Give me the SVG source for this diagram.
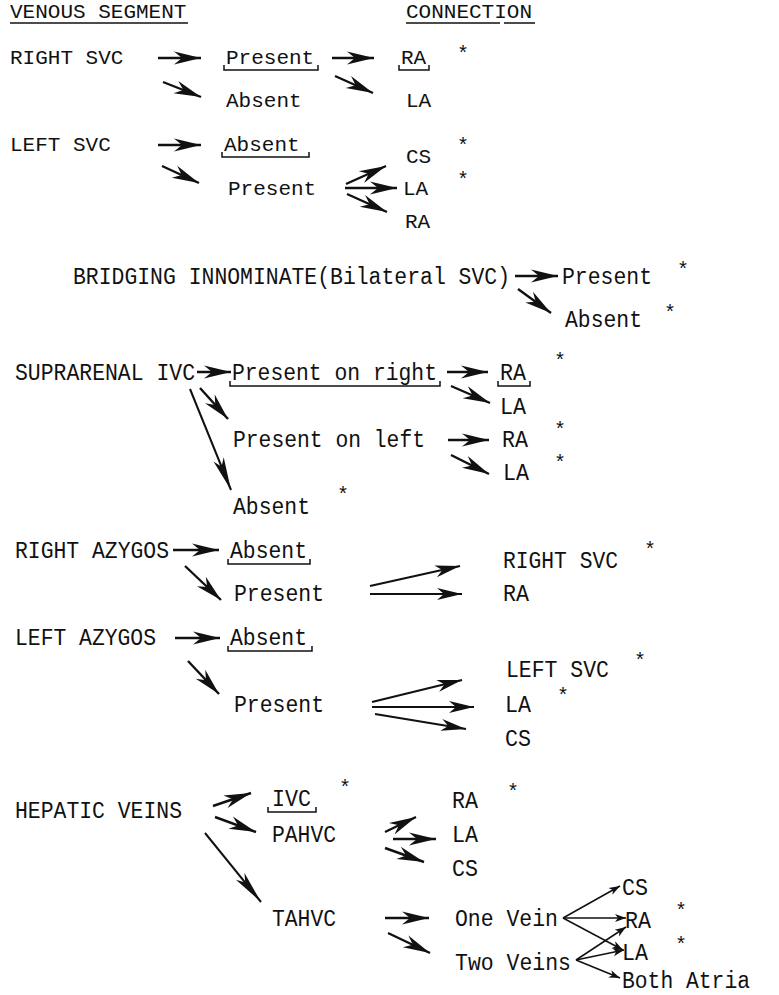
<svg xmlns="http://www.w3.org/2000/svg" width="779" height="995" viewBox="0 0 779 995">
<style>
text{font-family:"Liberation Mono","DejaVu Sans Mono",monospace;fill:#111}
.t{font-size:21px}
.c{font-size:23.5px}
.s{font-size:20px;text-anchor:middle}
.u{fill:none;stroke:#111;stroke-width:1.5}
.h{stroke:#111;stroke-width:2.4;fill:none;marker-end:url(#hb)}
.m{stroke:#111;stroke-width:2.2;fill:none;marker-end:url(#mb)}
.l{stroke:#111;stroke-width:2;fill:none;marker-end:url(#lb)}
.f{stroke:#111;stroke-width:1.5;fill:none;marker-end:url(#sb)}
</style>
<defs>
<marker id="hb" markerUnits="userSpaceOnUse" viewBox="-30 -8 31 16" refX="0" refY="0" markerWidth="31" markerHeight="16" orient="auto"><path d="M0,0 L-27,-6.5 L-19,0 L-27,6.5 Z" fill="#111"/></marker>
<marker id="mb" markerUnits="userSpaceOnUse" viewBox="-28 -7 29 14" refX="0" refY="0" markerWidth="29" markerHeight="14" orient="auto"><path d="M0,0 L-25,-6 L-18,0 L-25,6 Z" fill="#111"/></marker>
<marker id="lb" markerUnits="userSpaceOnUse" viewBox="-36 -7 37 14" refX="0" refY="0" markerWidth="37" markerHeight="14" orient="auto"><path d="M0,0 L-33,-5.5 L-25,0 L-33,5.5 Z" fill="#111"/></marker>
<marker id="sb" markerUnits="userSpaceOnUse" viewBox="-12 -5 13 10" refX="0" refY="0" markerWidth="13" markerHeight="10" orient="auto"><path d="M0,0 L-11,-4 L-8,0 L-11,4 Z" fill="#111"/></marker>
</defs>

<g id="headers">
<text class="t" x="10" y="18">VENOUS SEGMENT</text>
<path class="u" d="M10,23 H188"/>
<text class="t" x="406" y="18">CONNECTION</text>
<path class="u" d="M406,23 H500 M504,23 H535"/>
</g>

<g id="right-svc">
<text class="t" x="10" y="64">RIGHT SVC</text>
<text class="t" x="226" y="64">Present</text>
<path class="u" d="M224,65 V70 H318 V65"/>
<text class="t" x="226" y="107">Absent</text>
<text class="t" x="401" y="64">RA</text>
<path class="u" d="M399,65 V70 H429 V65"/>
<text class="t" x="406" y="107">LA</text>
<text class="s" x="463" y="60">*</text>
</g>

<g id="left-svc">
<text class="t" x="10" y="151">LEFT SVC</text>
<text class="t" x="224" y="151">Absent</text>
<path class="u" d="M222,152 V157 H309 V152"/>
<text class="t" x="228" y="195">Present</text>
<text class="t" x="406" y="163">CS</text>
<text class="t" x="403" y="195">LA</text>
<text class="t" x="405" y="228">RA</text>
<text class="s" x="463" y="152">*</text>
<text class="s" x="463" y="186">*</text>
</g>

<g id="bridging">
<text class="c" x="73" y="284" textLength="437" lengthAdjust="spacingAndGlyphs">BRIDGING INNOMINATE(Bilateral SVC)</text>
<text class="c" x="562" y="284" textLength="90" lengthAdjust="spacingAndGlyphs">Present</text>
<text class="c" x="565" y="327" textLength="77" lengthAdjust="spacingAndGlyphs">Absent</text>
<text class="s" x="683" y="276">*</text>
<text class="s" x="670" y="319">*</text>
</g>

<g id="suprarenal-ivc">
<text class="c" x="15" y="380" textLength="180" lengthAdjust="spacingAndGlyphs">SUPRARENAL IVC</text>
<text class="c" x="232" y="380" textLength="205" lengthAdjust="spacingAndGlyphs">Present on right</text>
<path class="u" d="M230,381 V386 H440 V381"/>
<text class="c" x="500" y="380" textLength="26" lengthAdjust="spacingAndGlyphs">RA</text>
<path class="u" d="M498,381 V386 H530 V381"/>
<text class="c" x="500" y="414" textLength="26" lengthAdjust="spacingAndGlyphs">LA</text>
<text class="c" x="233" y="447" textLength="192" lengthAdjust="spacingAndGlyphs">Present on left</text>
<text class="c" x="502" y="447" textLength="26" lengthAdjust="spacingAndGlyphs">RA</text>
<text class="c" x="503" y="480" textLength="26" lengthAdjust="spacingAndGlyphs">LA</text>
<text class="c" x="233" y="514" textLength="77" lengthAdjust="spacingAndGlyphs">Absent</text>
<text class="s" x="560" y="367">*</text>
<text class="s" x="560" y="436">*</text>
<text class="s" x="560" y="469">*</text>
<text class="s" x="343" y="501">*</text>
</g>

<g id="right-azygos">
<text class="c" x="15" y="558" textLength="154" lengthAdjust="spacingAndGlyphs">RIGHT AZYGOS</text>
<text class="c" x="230" y="558" textLength="77" lengthAdjust="spacingAndGlyphs">Absent</text>
<path class="u" d="M228,559 V564 H310 V559"/>
<text class="c" x="234" y="601" textLength="90" lengthAdjust="spacingAndGlyphs">Present</text>
<text class="c" x="503" y="568" textLength="115" lengthAdjust="spacingAndGlyphs">RIGHT SVC</text>
<text class="c" x="503" y="601" textLength="26" lengthAdjust="spacingAndGlyphs">RA</text>
<text class="s" x="650" y="556">*</text>
</g>

<g id="left-azygos">
<text class="c" x="15" y="645" textLength="141" lengthAdjust="spacingAndGlyphs">LEFT AZYGOS</text>
<text class="c" x="230" y="645" textLength="77" lengthAdjust="spacingAndGlyphs">Absent</text>
<path class="u" d="M228,646 V651 H312 V646"/>
<text class="c" x="234" y="712" textLength="90" lengthAdjust="spacingAndGlyphs">Present</text>
<text class="c" x="506" y="677" textLength="103" lengthAdjust="spacingAndGlyphs">LEFT SVC</text>
<text class="c" x="505" y="712" textLength="26" lengthAdjust="spacingAndGlyphs">LA</text>
<text class="c" x="505" y="746" textLength="26" lengthAdjust="spacingAndGlyphs">CS</text>
<text class="s" x="640" y="667">*</text>
<text class="s" x="563" y="702">*</text>
</g>

<g id="hepatic-veins">
<text class="c" x="15" y="818" textLength="167" lengthAdjust="spacingAndGlyphs">HEPATIC VEINS</text>
<text class="c" x="272" y="806" textLength="39" lengthAdjust="spacingAndGlyphs">IVC</text>
<path class="u" d="M268,807 V812 H316 V807"/>
<text class="c" x="272" y="842" textLength="64" lengthAdjust="spacingAndGlyphs">PAHVC</text>
<text class="c" x="452" y="808" textLength="26" lengthAdjust="spacingAndGlyphs">RA</text>
<text class="c" x="452" y="842" textLength="26" lengthAdjust="spacingAndGlyphs">LA</text>
<text class="c" x="452" y="876" textLength="26" lengthAdjust="spacingAndGlyphs">CS</text>
<text class="c" x="272" y="926" textLength="64" lengthAdjust="spacingAndGlyphs">TAHVC</text>
<text class="c" x="455" y="926" textLength="103" lengthAdjust="spacingAndGlyphs">One Vein</text>
<text class="c" x="455" y="970" textLength="116" lengthAdjust="spacingAndGlyphs">Two Veins</text>
<text class="c" x="622" y="895" textLength="26" lengthAdjust="spacingAndGlyphs">CS</text>
<text class="c" x="625" y="928" textLength="26" lengthAdjust="spacingAndGlyphs">RA</text>
<text class="c" x="622" y="960" textLength="26" lengthAdjust="spacingAndGlyphs">LA</text>
<text class="c" x="622" y="988" textLength="128" lengthAdjust="spacingAndGlyphs">Both Atria</text>
<text class="s" x="345" y="794">*</text>
<text class="s" x="513" y="798">*</text>
<text class="s" x="681" y="917">*</text>
<text class="s" x="681" y="951">*</text>
</g>

<g id="connectors">
<line class="h" x1="158" y1="58" x2="201" y2="58"/>
<line class="h" x1="163" y1="82" x2="201" y2="97"/>
<line class="h" x1="332" y1="58" x2="374" y2="58"/>
<line class="h" x1="335" y1="76" x2="373" y2="93"/>
<line class="h" x1="158" y1="145" x2="201" y2="145"/>
<line class="h" x1="162" y1="166" x2="199" y2="183"/>
<line class="h" x1="346" y1="184" x2="386" y2="166"/>
<line class="h" x1="345" y1="188" x2="397" y2="188"/>
<line class="h" x1="347" y1="194" x2="387" y2="212"/>

<line class="h" x1="515" y1="276" x2="558" y2="276"/>
<line class="h" x1="518" y1="289" x2="551" y2="313"/>

<line class="h" x1="197" y1="372" x2="231" y2="372"/>
<line class="h" x1="447" y1="372" x2="488" y2="372"/>
<line class="h" x1="451" y1="386" x2="490" y2="403"/>
<line class="h" x1="200" y1="388" x2="228" y2="419"/>
<line class="l" x1="190" y1="389" x2="231" y2="490"/>
<line class="h" x1="448" y1="440" x2="489" y2="440"/>
<line class="h" x1="451" y1="455" x2="489" y2="474"/>

<line class="h" x1="173" y1="550" x2="219" y2="550"/>
<line class="h" x1="185" y1="566" x2="221" y2="600"/>
<line class="m" x1="370" y1="586" x2="460" y2="566"/>
<line class="m" x1="370" y1="594" x2="462" y2="594"/>
<line class="h" x1="175" y1="638" x2="220" y2="638"/>
<line class="h" x1="188" y1="661" x2="219" y2="694"/>
<line class="m" x1="372" y1="702" x2="462" y2="680"/>
<line class="m" x1="372" y1="707" x2="474" y2="707"/>
<line class="m" x1="375" y1="714" x2="466" y2="729"/>

<line class="h" x1="213" y1="806" x2="251" y2="793"/>
<line class="h" x1="215" y1="817" x2="256" y2="832"/>
<line class="l" x1="205" y1="833" x2="261" y2="902"/>
<line class="h" x1="385" y1="832" x2="416" y2="817"/>
<line class="h" x1="393" y1="839" x2="436" y2="839"/>
<line class="h" x1="385" y1="848" x2="424" y2="862"/>
<line class="h" x1="385" y1="918" x2="429" y2="918"/>
<line class="h" x1="388" y1="933" x2="430" y2="953"/>

<line class="f" x1="563" y1="918" x2="620" y2="886"/>
<line class="f" x1="563" y1="918" x2="626" y2="918"/>
<line class="f" x1="563" y1="918" x2="623" y2="950"/>
<line class="f" x1="576" y1="960" x2="626" y2="927"/>
<line class="f" x1="576" y1="960" x2="624" y2="950"/>
<line class="f" x1="576" y1="960" x2="620" y2="978"/>
</g>
</svg>
